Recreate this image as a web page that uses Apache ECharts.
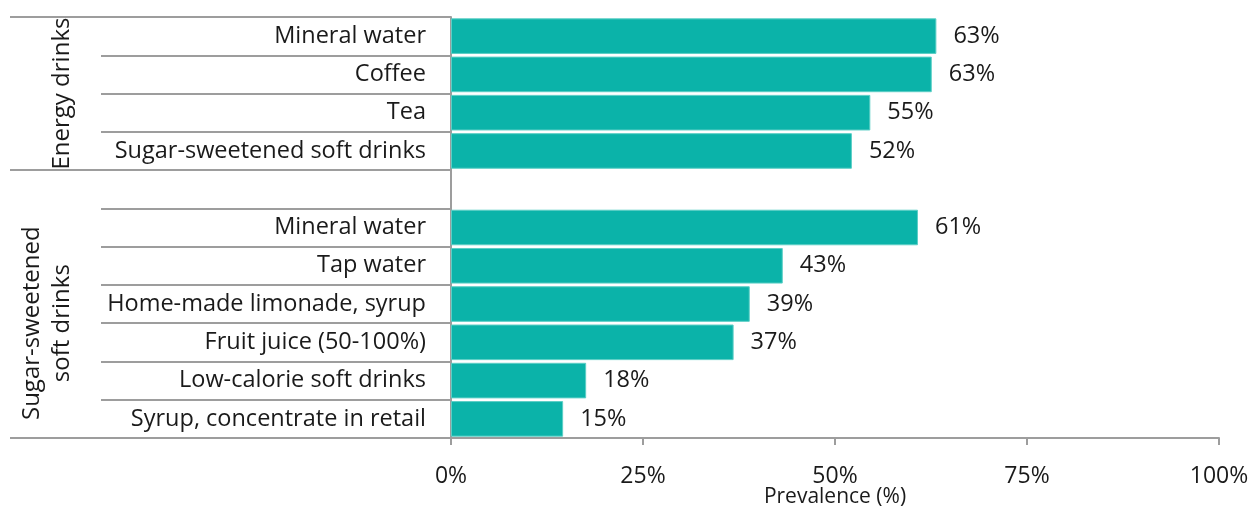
<!DOCTYPE html>
<html>
<head>
<meta charset="utf-8">
<script src="https://cdn.jsdelivr.net/npm/echarts@6/dist/echarts.min.js"></script>
<style>
  html, body { margin: 0; padding: 0; background: #fff; }
  #chart { width: 1252px; height: 506px; }
</style>
</head>
<body>
<div id="chart"></div>
<script>
// prevalence (%) per drink, two comparison groups
const groupNames = ['Energy drinks', 'Sugar-sweetened\nsoft drinks'];
const energyDrinks = ['Mineral water', 'Coffee', 'Tea', 'Sugar-sweetened soft drinks'];
const energyValues = [63.2, 62.6, 54.6, 52.2];
const sugarDrinks = ['Mineral water', 'Tap water', 'Home-made limonade, syrup', 'Fruit juice (50-100%)', 'Low-calorie soft drinks', 'Syrup, concentrate in retail'];
const sugarValues = [60.8, 43.2, 38.9, 36.8, 17.6, 14.6];
const xTicks = [0, 25, 50, 75, 100];

const GREY = '#9d9d9d';
const TEXT = '#1a1a1a';
const FONT = '"Open Sans", "Noto Sans", sans-serif';

// empty row separates the two groups
const categories = [...energyDrinks, '', ...sugarDrinks];
const values = [...energyValues, '-', ...sugarValues];
const groupStart = energyDrinks.length; // index of the gap row

const chart = echarts.init(document.getElementById('chart'));

const option = {
  animation: false,
  grid: { left: 451, right: 33, top: 17, bottom: 68, outerBoundsMode: 'none', containLabel: false },
  xAxis: {
    type: 'value',
    min: xTicks[0],
    max: xTicks[xTicks.length - 1],
    interval: 25,
    axisLine: { show: true, lineStyle: { color: GREY, width: 2 } },
    axisTick: { show: true, length: 7, lineStyle: { color: GREY, width: 2 } },
    splitLine: { show: false },
    axisLabel: {
      formatter: '{value}%', color: TEXT, fontFamily: FONT, fontSize: 23, margin: 27
    },
    name: 'Prevalence (%)',
    nameLocation: 'middle',
    nameGap: 59,
    nameMoveOverlap: false,
    nameTextStyle: { color: TEXT, fontFamily: FONT, fontSize: 21, verticalAlign: 'middle' }
  },
  yAxis: [
    {
      type: 'category',
      position: 'left',
      inverse: true,
      data: categories,
      axisLine: { show: true, lineStyle: { color: GREY, width: 2 } },
      axisTick: { show: true, length: 350, lineStyle: { color: GREY, width: 2 } },
      axisLabel: { color: TEXT, fontFamily: FONT, fontSize: 23.5, margin: 25, interval: 0 }
    },
    {
      // long separators at group boundaries
      type: 'category',
      position: 'left',
      inverse: true,
      data: categories,
      axisLine: { show: false },
      axisTick: {
        show: true, length: 441,
        interval: (i) => i === 0 || i === groupStart,
        lineStyle: { color: GREY, width: 2 }
      },
      axisLabel: { show: false }
    }
  ],
  series: [{
    type: 'bar',
    yAxisIndex: 0,
    data: values,
    barCategoryGap: '7%',
    itemStyle: { color: '#0bb3a9', borderColor: '#5ccfc6', borderWidth: 1 },
    label: {
      show: true,
      position: 'right',
      distance: 17,
      color: TEXT,
      fontFamily: FONT,
      fontSize: 23.5,
      formatter: (p) => Math.round(p.value) + '%'
    }
  }]
};

chart.setOption(option);

// group titles, centred on their rows
function groupCenter(from, to) {
  const a = chart.convertToPixel({ yAxisIndex: 0 }, from);
  const b = chart.convertToPixel({ yAxisIndex: 0 }, to);
  return (a + b) / 2;
}
const centers = [
  groupCenter(0, groupStart - 1),
  groupCenter(groupStart + 1, categories.length - 1)
];
const xs = [62, 47];
chart.setOption({
  graphic: groupNames.map((name, i) => ({
    type: 'text',
    x: xs[i],
    y: centers[i],
    rotation: Math.PI / 2,
    style: {
      text: name,
      fill: TEXT,
      font: '24px ' + FONT,
      textAlign: 'center',
      textVerticalAlign: 'middle',
      lineHeight: 30
    }
  }))
});
</script>
</body>
</html>
